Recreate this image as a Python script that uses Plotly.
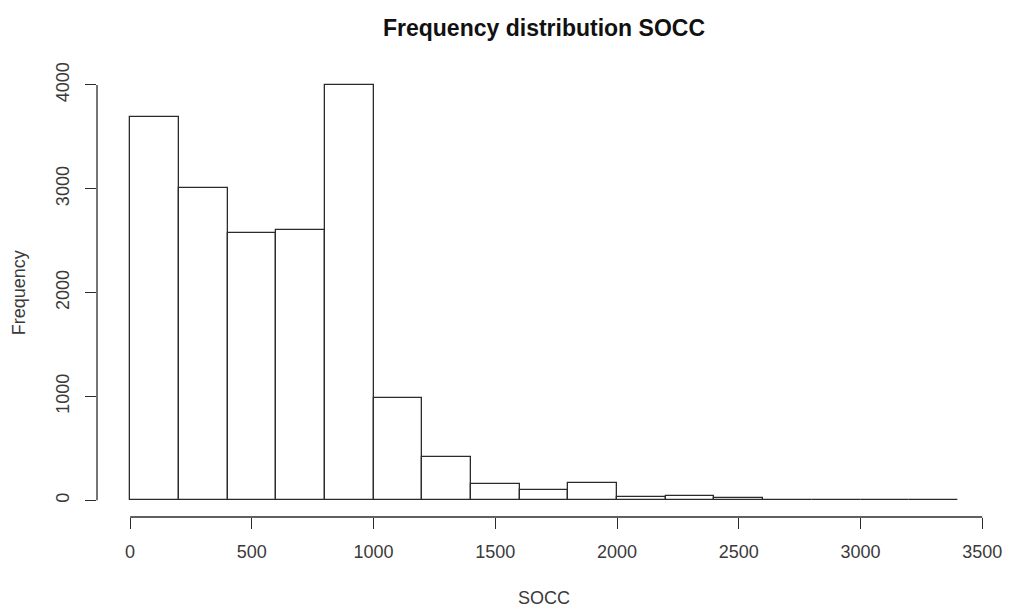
import plotly.graph_objects as go

# Histogram of SOCC: bin edges (width 200) and counts per bin
BIN_EDGES = [0, 200, 400, 600, 800, 1000, 1200, 1400, 1600, 1800,
             2000, 2200, 2400, 2600, 2800, 3000, 3200, 3400]
COUNTS = [3692, 3003, 2573, 2599, 4003, 988, 417, 157, 103, 170,
          36, 45, 22, 5, 3, 2, 1]

X_TICKS = [0, 500, 1000, 1500, 2000, 2500, 3000, 3500]
Y_TICKS = [0, 1000, 2000, 3000, 4000]

TITLE = "Frequency distribution SOCC"
X_LABEL = "SOCC"
Y_LABEL = "Frequency"

centers = [(a + b) / 2 for a, b in zip(BIN_EDGES[:-1], BIN_EDGES[1:])]
widths = [b - a for a, b in zip(BIN_EDGES[:-1], BIN_EDGES[1:])]

FONT = "Liberation Sans, Arial, sans-serif"
INK = "#2b2b2b"
TEXT = "#3a3a3a"

# R-style 4% padding around the data range
xspan = BIN_EDGES[-1] - BIN_EDGES[0]
ymax = max(COUNTS)
x_range = [BIN_EDGES[0] - 0.04 * xspan, BIN_EDGES[-1] + 0.04 * xspan]
y_range = [-0.04 * ymax, ymax * 1.04]

fig = go.Figure()
fig.add_trace(go.Bar(
    x=centers,
    y=COUNTS,
    width=widths,
    marker=dict(color="white", line=dict(color=INK, width=1.3)),
    showlegend=False,
    hoverinfo="x+y",
))

# Axis lines spanning only the tick range, as in base R graphics
fig.add_shape(type="line", xref="x", yref="paper",
              x0=X_TICKS[0], x1=X_TICKS[-1], y0=0, y1=0,
              line=dict(color=INK, width=1.3))
fig.add_shape(type="line", xref="paper", yref="y",
              x0=0, x1=0, y0=Y_TICKS[0], y1=Y_TICKS[-1],
              line=dict(color=INK, width=1.3))

L, R, T, B = 97, 15, 68, 95
W, H = 1014, 612

fig.update_layout(
    width=W,
    height=H,
    margin=dict(l=L, r=R, t=T, b=B),
    paper_bgcolor="white",
    plot_bgcolor="white",
    font=dict(family=FONT, size=18, color=TEXT),
    bargap=0,
    title=dict(
        text=f"<b>{TITLE}</b>",
        font=dict(family=FONT, size=23, color="#111111"),
        x=0.5, xref="paper", xanchor="center",
        y=1 - 28 / H, yref="container", yanchor="middle",
    ),
    xaxis=dict(
        range=x_range,
        tickvals=X_TICKS,
        ticktext=[str(v) for v in X_TICKS],
        ticks="outside",
        ticklen=11,
        tickwidth=1.3,
        tickcolor=INK,
        showline=False,
        showgrid=False,
        zeroline=False,
        ticklabelstandoff=7,
    ),
    yaxis=dict(
        range=y_range,
        tickvals=Y_TICKS,
        ticktext=[str(v) for v in Y_TICKS],
        ticks="outside",
        ticklen=11,
        tickwidth=1.3,
        tickcolor=INK,
        tickangle=-90,
        showline=False,
        showgrid=False,
        zeroline=False,
        ticklabelstandoff=9,
    ),
    annotations=[
        dict(text=X_LABEL, xref="paper", yref="paper",
             x=0.5, y=-(598 - (H - B)) / (H - T - B),
             xanchor="center", yanchor="middle", showarrow=False,
             font=dict(family=FONT, size=18, color=TEXT)),
        dict(text=Y_LABEL, xref="paper", yref="paper",
             x=-(L - 18) / (W - L - R), y=0.5,
             xanchor="center", yanchor="middle", textangle=-90,
             showarrow=False,
             font=dict(family=FONT, size=18, color=TEXT)),
    ],
)

fig.write_html("out.html")
